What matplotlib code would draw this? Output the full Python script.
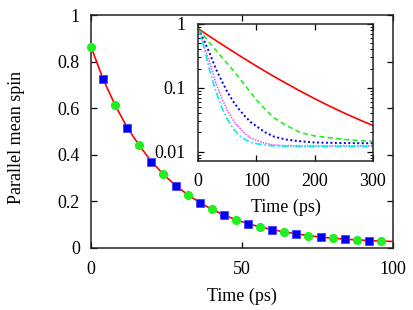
import matplotlib
matplotlib.use("Agg")
import matplotlib.pyplot as plt
import numpy as np

plt.rcParams['font.family'] = ['Liberation Serif', 'DejaVu Serif']

# ---- main panel data ----
main_t = [0, 4, 8, 12, 16, 20, 24, 28, 32, 36, 40, 44, 48, 52, 56, 60, 64, 68,
          72, 76, 80, 84, 88, 92, 96, 100]
main_v = [0.864, 0.725, 0.613, 0.517, 0.440, 0.371, 0.316, 0.268, 0.229, 0.195,
          0.166, 0.142, 0.121, 0.105, 0.090, 0.079, 0.069, 0.061, 0.053, 0.047,
          0.042, 0.038, 0.035, 0.032, 0.030, 0.028]
green_t = main_t[0:25:2]
green_v = main_v[0:25:2]
blue_t = main_t[1:25:2]
blue_v = main_v[1:25:2]

# ---- inset data ----
red_t = [0, 25, 50, 75, 100, 125, 150, 175, 200, 225, 250, 275, 300]
red_v = [0.84, 0.592, 0.421, 0.302, 0.219, 0.160, 0.119, 0.0891, 0.0676, 0.0520,
         0.0406, 0.0321, 0.0257]

crv_t = [0, 10, 20, 30, 40, 50, 60, 70, 80, 90, 100, 115, 130, 150, 175, 200, 250, 300]
grn_v = [0.84, 0.65, 0.50, 0.39, 0.305, 0.24, 0.187, 0.145, 0.11, 0.084, 0.065, 0.046,
         0.034, 0.026, 0.020, 0.0176, 0.0155, 0.0144]
blu_v = [0.84, 0.55, 0.34, 0.20, 0.13, 0.086, 0.061, 0.046, 0.036, 0.029, 0.025, 0.020,
         0.0172, 0.0155, 0.0145, 0.0139, 0.0136, 0.0135]
mag_v = [0.84, 0.45, 0.24, 0.12, 0.07, 0.044, 0.031, 0.024, 0.019, 0.0165, 0.015, 0.0135,
         0.0127, 0.0124, 0.0123, 0.0123, 0.0123, 0.0123]
cya_v = [0.84, 0.42, 0.18, 0.09, 0.05, 0.032, 0.023, 0.018, 0.0155, 0.014, 0.0133, 0.0127,
         0.0123, 0.0121, 0.0120, 0.0120, 0.0120, 0.0120]

main_xticks = [0, 50, 100]
main_yticks = [0, 0.2, 0.4, 0.6, 0.8, 1]
main_yticklabels = ['0', '0.2', '0.4', '0.6', '0.8', '1']
inset_xticks = [0, 100, 200, 300]
inset_yticks = [0.01, 0.1, 1]
inset_yticklabels = ['0.01', '0.1', '1']

RED = '#ff0000'
GREEN = '#22ee22'
BLUE = '#0000ee'
MAG = '#ff22ff'
CYAN = '#00eeee'
FS = 13

fig = plt.figure(figsize=(4.14, 3.10), dpi=100)
ax = fig.add_axes([0.2198, 0.2, 0.7295, 0.7516])
ax.plot(main_t, main_v, color=RED, lw=1.2, zorder=2)
ax.plot(green_t, green_v, 'o', color=GREEN, ms=5.6, mec=GREEN, zorder=3, clip_on=False)
ax.plot(blue_t, blue_v, 's', color=BLUE, ms=5.2, mec='#4444ff', mew=0.6, zorder=3, clip_on=False)
ax.set_xlim(0, 100)
ax.set_ylim(0, 1)
ax.set_xticks(main_xticks)
ax.set_yticks(main_yticks)
ax.set_yticklabels(main_yticklabels)
ax.tick_params(direction='in', top=True, right=True, length=4, width=0.9,
               labelsize=FS)
ax.tick_params(axis='y', pad=8)
ax.tick_params(axis='x', pad=9)
for s in ax.spines.values():
    s.set_linewidth(1.1)
    s.set_color('#222222')
ax.set_xlabel('Time (ps)', fontsize=FS, labelpad=7)
ax.set_ylabel('Parallel mean spin', fontsize=FS)
ax.yaxis.set_label_coords(-0.218, 0.475)

ins = fig.add_axes([0.479, 0.4816, 0.4213, 0.441])
ins.plot(red_t, red_v, color=RED, lw=1.2)
ins.plot(crv_t, grn_v, color=GREEN, lw=1.2, ls=(0, (3, 2)))
ins.plot(crv_t, blu_v, color=BLUE, lw=1.4, ls=(0, (1, 1.3)))
ins.plot(crv_t, mag_v, color=MAG, lw=1.0, ls=(0, (1, 1)))
ins.plot(crv_t, cya_v, color=CYAN, lw=1.2, ls=(0, (4, 1.5, 1, 1.5)))
ins.set_yscale('log')
ins.set_xlim(0, 300)
ins.set_ylim(0.0072, 1)
ins.set_xticks(inset_xticks)
ins.set_yticks(inset_yticks)
ins.set_yticklabels(inset_yticklabels)
ins.tick_params(which='major', direction='in', top=True, right=True, length=4, width=0.9,
                labelsize=FS)
ins.tick_params(which='minor', direction='in', top=True, right=True, length=2, width=0.7)
ins.tick_params(axis='x', pad=9)
ins.tick_params(axis='y', pad=9)
for s in ins.spines.values():
    s.set_linewidth(1.1)
    s.set_color('#222222')
ins.set_xlabel('Time (ps)', fontsize=FS, labelpad=6)

fig.savefig('out.png', dpi=100)
